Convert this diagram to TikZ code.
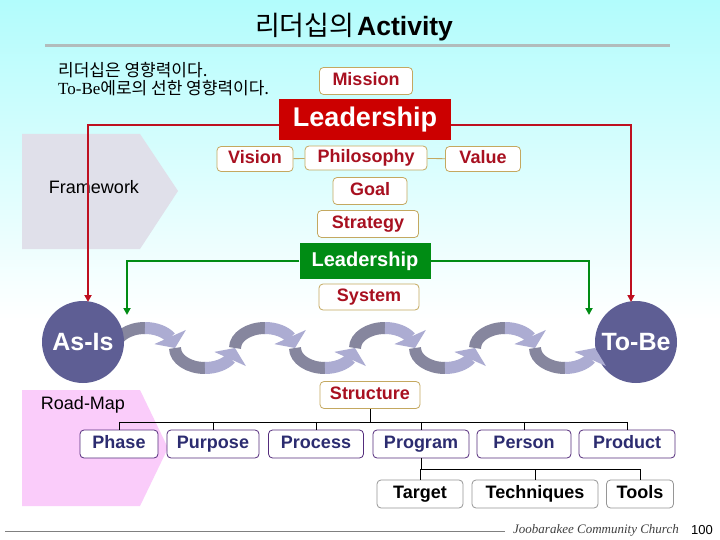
\documentclass[tikz,border=0pt]{standalone}
\usepackage{fontspec}
\setmainfont{Liberation Sans}
\newfontfamily\cjk{Noto Sans CJK KR}
\newfontfamily\serifrm{Liberation Serif}
\usetikzlibrary{arrows.meta,bending}

\definecolor{skycyan}{RGB}{178,252,252}
\definecolor{boxtan}{RGB}{196,168,96}
\definecolor{keyred}{RGB}{168,16,32}
\definecolor{leadred}{RGB}{204,0,0}
\definecolor{leadgreen}{RGB}{0,140,20}
\definecolor{linkred}{RGB}{190,16,32}
\definecolor{endblue}{RGB}{94,94,148}
\definecolor{wavedark}{RGB}{134,134,158}
\definecolor{wavelight}{RGB}{172,172,210}
\definecolor{rowline}{RGB}{84,44,124}
\definecolor{rowtext}{RGB}{44,44,112}
\definecolor{toolgray}{RGB}{150,150,150}
\definecolor{fwgray}{RGB}{224,224,234}
\definecolor{rmpink}{RGB}{250,204,250}
\definecolor{rulegray}{RGB}{178,188,188}

\begin{document}
\begin{tikzpicture}[x=1pt, y=-1pt,
  every node/.style={inner sep=0pt},
  keybox/.style={draw=boxtan, line width=0.8pt, rounded corners=4pt, fill=white, text=keyred,
    font=\fontsize{18}{20}\selectfont\bfseries, text height=13pt, text depth=4pt, minimum height=26pt},
  rowbox/.style={draw=rowline, line width=0.8pt, rounded corners=4pt, fill=white, text=rowtext,
    font=\fontsize{18}{20}\selectfont\bfseries, text height=13pt, text depth=4pt, minimum height=28pt},
  toolbox/.style={draw=toolgray, line width=0.8pt, rounded corners=4pt, fill=white, text=black,
    font=\fontsize{18}{20}\selectfont\bfseries, text height=13pt, text depth=4pt, minimum height=28pt},
  endpoint/.style={circle, fill=endblue, text=white, minimum size=82pt,
    font=\fontsize{25}{27}\selectfont\bfseries},
  redlink/.style={draw=linkred, line width=1.8pt, -{Triangle[length=7pt,width=7pt]}},
  greenlink/.style={draw=leadgreen, line width=1.8pt, -{Triangle[length=7pt,width=7pt]}},
  treeline/.style={draw=black, line width=0.8pt},
  wave/.style={line width=12pt},
  wavetip/.style={-{Triangle[length=12pt,width=34pt]}}
]
  \useasboundingbox (0,0) rectangle (720,540);
  % background
  \fill[white] (0,0) rectangle (720,540);
  \fill[top color=skycyan, bottom color=white] (0,0) rectangle (720,320);

  % title
  \node (title) at (354,27) {{\cjk\fontsize{27}{29}\selectfont 리더십의} {\fontsize{26.5}{29}\selectfont\bfseries Activity}};
  \draw[rulegray, line width=3pt] (45,46) -- (670,46);
  \node[anchor=west, align=left, font=\fontsize{17}{18}\selectfont] (intro) at (58,79)
    {{\cjk 리더십은 영향력이다.}\\{\serifrm To-Be}{\cjk 에로의 선한 영향력이다.}};

  % side chevrons
  \fill[fwgray] (22,134) -- (140,134) -- (178,191) -- (140,249) -- (22,249) -- cycle;
  \node[font=\fontsize{18}{20}\selectfont] (framework) at (94,187) {Framework};
  \fill[rmpink] (22,390) -- (140,390) -- (168,448) -- (140,506) -- (22,506) -- cycle;
  \node[font=\fontsize{18}{20}\selectfont] (roadmap) at (83,405) {Road-Map};

  % upper column
  \node[keybox, minimum width=93pt, minimum height=27pt] (mission) at (366,81) {Mission};
  \node[fill=leadred, text=white, minimum width=172pt, minimum height=41pt,
    font=\fontsize{27}{29}\selectfont\bfseries] (topleader) at (365,120) {Leadership};
  \node[keybox, minimum width=76pt, minimum height=25pt] (vision) at (255,159) {Vision};
  \node[keybox, minimum width=122pt, minimum height=24pt] (philosophy) at (366,158) {Philosophy};
  \node[keybox, minimum width=75pt, minimum height=25pt] (value) at (483,159) {Value};
  \node[keybox, minimum width=74pt, minimum height=27pt] (goal) at (370,191) {Goal};
  \node[keybox, minimum width=101pt, minimum height=27pt] (strategy) at (368,224) {Strategy};
  \node[fill=leadgreen, text=white, minimum width=131pt, minimum height=36pt,
    font=\fontsize{20}{22}\selectfont\bfseries] (midleader) at (365,261) {Leadership};
  \node[keybox, minimum width=100pt] (system) at (369,297) {System};

  \draw[boxtan, line width=0.8pt] (vision) -- (philosophy);
  \draw[boxtan, line width=0.8pt] (philosophy) -- (value);

  % As-Is / To-Be and the wave between
  \node[endpoint] (tobe) at (636,342) {To-Be};
  \foreach \c in {145,265,385,505} {
    \draw[wave, wavedark] (\c-30,348) arc[start angle=180, end angle=270, x radius=30, y radius=20];
    \draw[wave, wavelight, wavetip] (\c,328) arc[start angle=270, end angle=360, x radius=30, y radius=20];
  }
  \foreach \c in {205,325,445,565} {
    \draw[wave, wavedark] (\c-30,348) arc[start angle=180, end angle=90, x radius=30, y radius=20];
    \draw[wave, wavelight, wavetip] (\c,368) arc[start angle=90, end angle=0, x radius=30, y radius=20];
  }
  \node[endpoint] (asis) at (83,342) {As-Is};

  \coordinate (asisred) at (88,302);
  \coordinate (tobered) at (631,302);
  \coordinate (asisgreen) at (127,315);
  \coordinate (tobegreen) at (589,315);
  \draw[redlink] ([yshift=-5pt]topleader.west) -| (asisred);
  \draw[redlink] ([yshift=-5pt]topleader.east) -| (tobered);
  \draw[greenlink] (midleader.west) -| (asisgreen);
  \draw[greenlink] (midleader.east) -| (tobegreen);

  % road-map tree
  \node[keybox, minimum width=100pt, minimum height=27pt] (structure) at (370,395) {Structure};
  \node[rowbox, minimum width=78pt] (phase) at (119,444) {Phase};
  \node[rowbox, minimum width=92pt] (purpose) at (213,444) {Purpose};
  \node[rowbox, minimum width=95pt] (process) at (316,444) {Process};
  \node[rowbox, minimum width=96pt] (program) at (421,444) {Program};
  \node[rowbox, minimum width=94pt] (person) at (524,444) {Person};
  \node[rowbox, minimum width=96pt] (product) at (627,444) {Product};
  \node[toolbox, minimum width=86pt] (target) at (420,494) {Target};
  \node[toolbox, minimum width=126pt] (techniques) at (535,494) {Techniques};
  \node[toolbox, minimum width=67pt] (tools) at (640,494) {Tools};

  \draw[treeline] (structure.south) -- ++(0,13) coordinate (rowbus);
  \draw[treeline] (phase.north |- rowbus) -- (product.north |- rowbus);
  \foreach \b in {phase,purpose,process,program,person,product}
    \draw[treeline] (\b.north |- rowbus) -- (\b.north);
  \draw[treeline] (program.south) -- ++(0,11) coordinate (toolbus);
  \draw[treeline] (toolbus) -- (tools.north |- toolbus);
  \foreach \b in {target,techniques,tools}
    \draw[treeline] (\b.north |- toolbus) -- (\b.north);

  % footer
  \draw[gray, line width=1pt] (5,531) -- (505,531);
  \node[anchor=west, text=black!75, font=\serifrm\itshape\fontsize{13}{15}\selectfont] (church) at (513,530) {Joobarakee Community Church};
  \node[anchor=west, font=\fontsize{13}{15}\selectfont] (pageno) at (691,530) {100};
\end{tikzpicture}
\end{document}
